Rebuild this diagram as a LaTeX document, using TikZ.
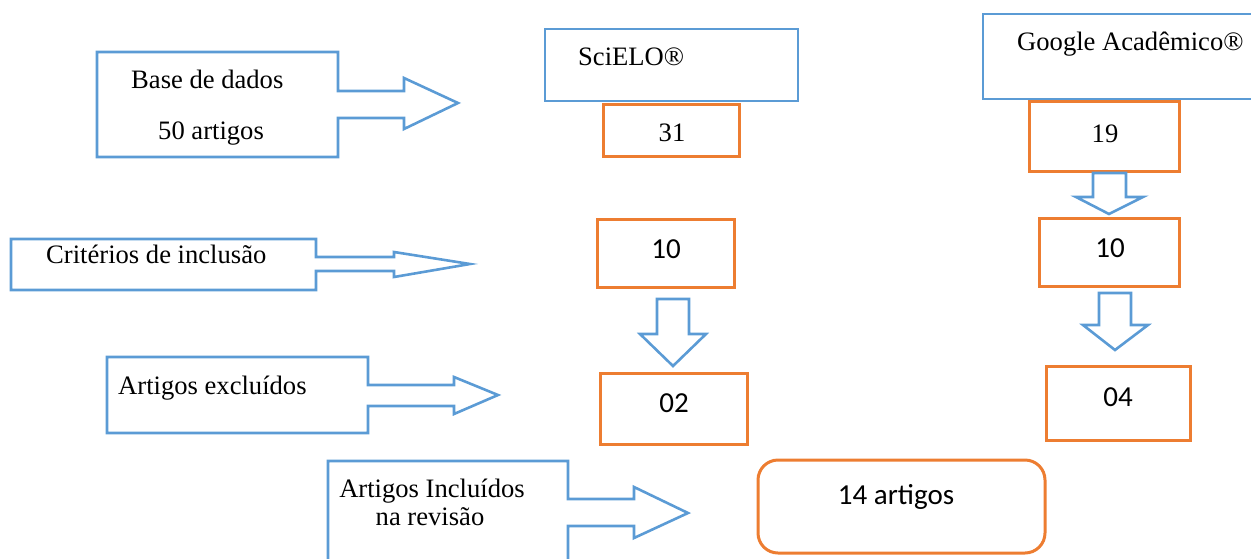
\documentclass[tikz,border=0pt]{standalone}
\usepackage{fontspec}
\setmainfont{Liberation Serif}
\newfontfamily\calib{Carlito}
\definecolor{wblue}{HTML}{5B9BD5}
\definecolor{worange}{HTML}{ED7D31}
\begin{document}
\begin{tikzpicture}[x=1pt,y=-1pt,
  bl/.style={draw=wblue, line width=2.6pt, line join=miter},
  ob/.style={draw=worange, line width=3pt},
  tt/.style={font=\fontsize{26.6}{30}\selectfont, inner sep=0pt},
  ct/.style={font=\calib\fontsize{29}{34}\selectfont, inner sep=0pt}]
\useasboundingbox (0,0) rectangle (1251,558);

% --- callout arrows (blue) ---
\draw[bl] (97,52) -- (338,52) -- (338,91) -- (404,91) -- (404,78) -- (458,103) -- (404,129) -- (404,118) -- (338,118) -- (338,157) -- (97,157) -- cycle;
\node[tt, anchor=base west] (base1) at (131,88) {Base de dados};
\node[tt, anchor=base west] (base2) at (158,139) {50 artigos};

\draw[bl] (11,239) -- (316,239) -- (316,257) -- (394,257) -- (394,252) -- (470,264) -- (394,277) -- (394,271) -- (316,271) -- (316,290) -- (11,290) -- cycle;
\node[tt, anchor=base west] (crit) at (46,263) {Critérios de inclusão};

\draw[bl] (107,357) -- (368,357) -- (368,385) -- (454,385) -- (454,377) -- (498,395) -- (454,414) -- (454,406) -- (368,406) -- (368,433) -- (107,433) -- cycle;
\node[tt, anchor=base west] (excl) at (118,394) {Artigos excluídos};

\draw[bl] (328,570) -- (328,461) -- (568,461) -- (568,499) -- (634,499) -- (634,487) -- (688,513) -- (634,538) -- (634,526) -- (568,526) -- (568,570);
\node[tt, anchor=base] (incl1) at (432,497) {Artigos Incluídos};
\node[tt, anchor=base] (incl2) at (430,525) {na revisão};

% --- database boxes ---
\draw[bl] (545,29) rectangle (798,101);
\node[tt, anchor=base west] (scielo) at (578,65) {SciELO®};
\draw[bl] (983,14) rectangle (1265,99);
\node[tt, anchor=base west] (google) at (1017,50) {Google Acadêmico®};

% --- orange count boxes ---
\draw[ob] (603,104) rectangle (739,156);
\node[tt, anchor=base] (n31) at (672,141) {31};
\draw[ob] (1029,101) rectangle (1179,171);
\node[tt, anchor=base] (n19) at (1105,142) {19};

\draw[ob] (597,219) rectangle (734,287);
\node[ct, anchor=base] (n10a) at (666,258) {10};
\draw[ob] (1039,218) rectangle (1179,286);
\node[ct, anchor=base] (n10b) at (1110,257) {10};

\draw[ob] (600,373) rectangle (747,444);
\node[ct, anchor=base] (n02) at (674,412) {02};
\draw[ob] (1046,366) rectangle (1190,440);
\node[ct, anchor=base] (n04) at (1118,406) {04};

\draw[ob, rounded corners=20pt] (758,460) rectangle (1045,553);
\node[ct, anchor=base] (n14) at (896,504) {14 artigos};

% --- down block arrows ---
\draw[bl] (1093,173) -- (1126,173) -- (1126,197) -- (1143,197) -- (1109,214) -- (1076,197) -- (1093,197) -- cycle;
\draw[bl] (1099,293) -- (1131,293) -- (1131,325) -- (1148,325) -- (1115,350) -- (1083,325) -- (1099,325) -- cycle;
\draw[bl] (657,299) -- (689,299) -- (689,334) -- (706,334) -- (673,366) -- (640,334) -- (657,334) -- cycle;
\end{tikzpicture}
\end{document}
